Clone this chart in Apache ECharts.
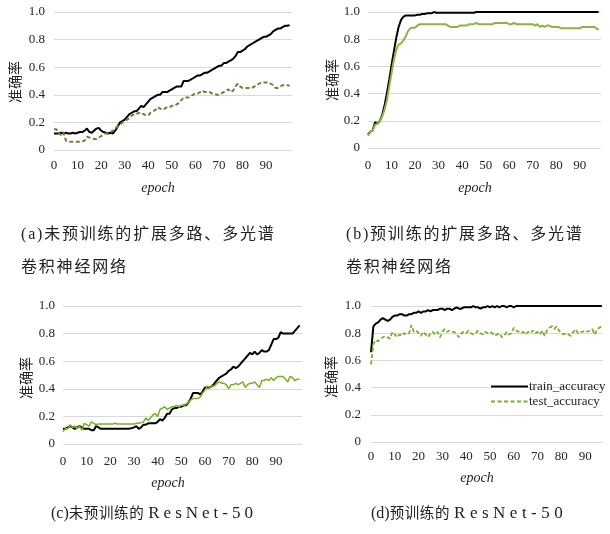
<!DOCTYPE html>
<html>
<head>
<meta charset="utf-8">
<script src="https://cdn.jsdelivr.net/npm/echarts@6/dist/echarts.min.js"></script>
<style>
body { margin: 0; background: #fff; }
#chart { position: absolute; left: 0; top: 0; width: 610px; height: 534px; }
.cap { position: absolute; font-family: "Liberation Serif", "Noto Sans CJK SC", serif; color: #222; white-space: nowrap; line-height: 16px; }
.cap .cjk { font-family: "Noto Sans CJK SC", sans-serif; }
</style>
</head>
<body>
<div id="chart"></div>
<div class="cap" style="left:21px;top:224px;font-size:16px;letter-spacing:1.8px">(a)<span class="cjk">未预训练的扩展多路、多光谱</span></div>
<div class="cap" style="left:21px;top:257px;font-size:16px;letter-spacing:1.8px"><span class="cjk">卷积神经网络</span></div>
<div class="cap" style="left:346px;top:224px;font-size:16px;letter-spacing:1.8px">(b)<span class="cjk">预训练的扩展多路、多光谱</span></div>
<div class="cap" style="left:346px;top:257px;font-size:16px;letter-spacing:1.8px"><span class="cjk">卷积神经网络</span></div>
<div class="cap" style="left:51px;top:504px;font-size:16px">(c)<span class="cjk" style="font-size:14.5px;letter-spacing:0.6px">未预训练的</span> <span style="font-size:17px;letter-spacing:4px">ResNet-50</span></div>
<div class="cap" style="left:371px;top:504px;font-size:16px">(d)<span class="cjk" style="font-size:14.5px;letter-spacing:0.6px">预训练的</span> <span style="font-size:17px;letter-spacing:4.5px">ResNet-50</span></div>
<script>
// (a) 未预训练的扩展多路、多光谱卷积神经网络
const trainA = [0.12,0.12,0.12,0.125,0.12,0.125,0.12,0.12,0.125,0.12,
    0.125,0.13,0.13,0.14,0.155,0.13,0.125,0.14,0.155,0.16,
    0.14,0.13,0.125,0.12,0.125,0.12,0.14,0.17,0.2,0.21,
    0.22,0.24,0.26,0.27,0.28,0.28,0.3,0.32,0.31,0.33,
    0.35,0.37,0.38,0.39,0.4,0.4,0.42,0.42,0.42,0.43,
    0.44,0.45,0.46,0.46,0.46,0.5,0.5,0.5,0.51,0.52,
    0.53,0.54,0.54,0.55,0.56,0.56,0.57,0.58,0.59,0.6,
    0.61,0.61,0.63,0.63,0.64,0.65,0.66,0.68,0.71,0.71,
    0.72,0.73,0.75,0.76,0.77,0.78,0.79,0.8,0.81,0.82,
    0.82,0.83,0.84,0.86,0.87,0.88,0.88,0.89,0.9,0.9,
    0.905];
const testA = [0.15,0.15,0.12,0.11,0.13,0.07,0.06,0.06,0.06,0.06,
    0.06,0.06,0.06,0.07,0.095,0.09,0.085,0.08,0.08,0.09,
    0.1,0.11,0.12,0.12,0.13,0.14,0.16,0.17,0.18,0.2,
    0.21,0.22,0.23,0.25,0.26,0.26,0.27,0.26,0.26,0.25,
    0.25,0.27,0.28,0.29,0.31,0.3,0.29,0.3,0.31,0.31,
    0.32,0.32,0.33,0.34,0.36,0.38,0.38,0.38,0.39,0.4,
    0.41,0.41,0.42,0.43,0.42,0.42,0.42,0.41,0.41,0.4,
    0.4,0.41,0.42,0.43,0.44,0.42,0.43,0.46,0.48,0.46,
    0.45,0.45,0.45,0.45,0.45,0.46,0.47,0.48,0.49,0.49,
    0.49,0.49,0.48,0.47,0.45,0.45,0.46,0.47,0.47,0.47,
    0.465];

// (b) 预训练的扩展多路、多光谱卷积神经网络
const trainB = [0.1,0.12,0.13,0.19,0.18,0.2,0.24,0.31,0.4,0.5,
    0.61,0.71,0.81,0.89,0.94,0.965,0.975,0.975,0.975,0.975,
    0.975,0.98,0.98,0.985,0.985,0.99,0.99,0.99,1,0.995,
    0.995,0.995,0.995,0.995,0.995,0.995,0.995,0.995,0.995,0.995,
    0.995,0.995,0.995,0.995,0.995,0.995,1,1,1,1,
    1,1,1,1,1,1,1,1,1,1,
    1,1,1,1,1,1,1,1,1,1,
    1,1,1,1,1,1,1,1,1,1,
    1,1,1,1,1,1,1,1,1,1,
    1,1,1,1,1,1,1,1,1];
const testB = [0.09,0.12,0.13,0.17,0.18,0.2,0.23,0.28,0.35,0.45,
    0.55,0.65,0.72,0.76,0.77,0.79,0.82,0.86,0.88,0.885,
    0.885,0.9,0.91,0.91,0.91,0.91,0.91,0.91,0.91,0.91,
    0.91,0.91,0.91,0.91,0.9,0.89,0.89,0.89,0.89,0.9,
    0.9,0.9,0.9,0.91,0.91,0.91,0.92,0.91,0.91,0.91,
    0.91,0.91,0.91,0.91,0.92,0.92,0.92,0.92,0.92,0.92,
    0.91,0.91,0.92,0.91,0.91,0.91,0.91,0.91,0.91,0.91,
    0.91,0.9,0.91,0.89,0.9,0.89,0.9,0.9,0.89,0.89,
    0.89,0.89,0.88,0.88,0.88,0.88,0.88,0.88,0.88,0.88,
    0.88,0.89,0.89,0.89,0.89,0.89,0.89,0.88,0.87];

// (c) 未预训练的 ResNet-50
const trainC = [0.11,0.11,0.12,0.13,0.12,0.11,0.12,0.13,0.12,0.11,
    0.11,0.11,0.1,0.1,0.13,0.12,0.11,0.11,0.11,0.11,
    0.11,0.11,0.11,0.11,0.11,0.11,0.11,0.11,0.11,0.115,
    0.12,0.13,0.11,0.12,0.14,0.14,0.15,0.15,0.15,0.15,
    0.16,0.18,0.17,0.19,0.22,0.22,0.25,0.26,0.26,0.27,
    0.27,0.28,0.28,0.3,0.33,0.37,0.37,0.37,0.36,0.38,
    0.41,0.41,0.41,0.42,0.44,0.46,0.48,0.49,0.5,0.51,
    0.53,0.54,0.56,0.55,0.56,0.58,0.6,0.62,0.64,0.66,
    0.65,0.67,0.65,0.66,0.68,0.67,0.67,0.68,0.72,0.76,
    0.76,0.77,0.81,0.8,0.8,0.8,0.8,0.8,0.82,0.84,
    0.86];
const testC = [0.09,0.11,0.11,0.14,0.12,0.13,0.11,0.13,0.1,0.15,
    0.14,0.13,0.16,0.15,0.14,0.145,0.145,0.145,0.145,0.145,
    0.145,0.145,0.15,0.145,0.145,0.145,0.145,0.145,0.145,0.145,
    0.145,0.15,0.15,0.155,0.16,0.19,0.17,0.19,0.21,0.22,
    0.2,0.25,0.26,0.27,0.25,0.26,0.27,0.27,0.28,0.27,
    0.28,0.28,0.29,0.3,0.32,0.33,0.33,0.33,0.34,0.37,
    0.39,0.42,0.41,0.42,0.42,0.44,0.45,0.44,0.44,0.43,
    0.4,0.43,0.43,0.44,0.43,0.44,0.45,0.41,0.43,0.44,
    0.44,0.45,0.43,0.41,0.46,0.46,0.47,0.46,0.48,0.46,
    0.48,0.49,0.49,0.49,0.47,0.45,0.49,0.48,0.46,0.47,
    0.47];

// (d) 预训练的 ResNet-50
const trainD = [0.66,0.85,0.87,0.88,0.9,0.91,0.9,0.89,0.9,0.92,
    0.93,0.93,0.94,0.94,0.93,0.93,0.94,0.94,0.95,0.95,
    0.96,0.95,0.96,0.96,0.97,0.96,0.97,0.97,0.97,0.98,
    0.98,0.97,0.98,0.98,0.97,0.98,0.99,0.98,0.98,0.99,
    0.99,0.99,0.99,1,0.99,0.99,0.98,0.99,0.99,1,
    0.99,1,0.99,1,0.99,1,1,0.99,1,1,
    0.99,1,1,1,1,1,1,1,1,1,
    1,1,1,1,1,1,1,1,1,1,
    1,1,1,1,1,1,1,1,1,1,
    1,1,1,1,1,1,1,1];
const testD = [0.57,0.72,0.75,0.74,0.76,0.77,0.78,0.77,0.76,0.81,
    0.79,0.77,0.79,0.78,0.8,0.79,0.8,0.86,0.81,0.82,
    0.8,0.78,0.81,0.79,0.77,0.8,0.81,0.79,0.81,0.77,
    0.81,0.83,0.81,0.82,0.81,0.81,0.79,0.77,0.8,0.81,
    0.8,0.82,0.8,0.79,0.8,0.82,0.8,0.79,0.81,0.8,
    0.81,0.8,0.78,0.79,0.8,0.77,0.78,0.81,0.79,0.8,
    0.84,0.82,0.81,0.8,0.81,0.79,0.81,0.8,0.82,0.8,
    0.81,0.79,0.82,0.78,0.82,0.84,0.85,0.83,0.85,0.82,
    0.8,0.79,0.8,0.79,0.78,0.81,0.83,0.8,0.81,0.81,
    0.82,0.81,0.82,0.83,0.79,0.83,0.84,0.85];

const yTitle = '准确率';
const xTitle = 'epoch';
const legendNames = ['train_accuracy', 'test_accuracy'];

const SERIF = '"Liberation Serif", serif';
const CJK = '"Noto Sans CJK SC", sans-serif';
const GRID_COLOR = '#d9d9d9';
const LABEL_COLOR = '#262626';

const panels = [
    { left: 54, top: 12, width: 238, height: 138, max: 101, yMargin: 9, xMargin: 9,
      train: trainA, test: testA, testColor: '#85753a', testType: [4, 2.5], testWidth: 2,
      yTitleAt: [15, 82], xTitleAt: [158, 188], names: ['train_a', 'test_a'] },
    { left: 368, top: 12, width: 233, height: 136, max: 99, yMargin: 8, xMargin: 11,
      train: trainB, test: testB, testColor: '#8cb540', testType: 'solid', testWidth: 2,
      yTitleAt: [332, 80], xTitleAt: [475, 188], names: ['train_b', 'test_b'] },
    { left: 63, top: 306, width: 239, height: 138, max: 101, yMargin: 8, xMargin: 11,
      train: trainC, test: testC, testColor: '#7aaf27', testType: 'solid', testWidth: 1.5,
      yTitleAt: [26, 378], xTitleAt: [168, 483], names: ['train_c', 'test_c'] },
    { left: 371, top: 306, width: 232, height: 136, max: 97.5, yMargin: 10, xMargin: 8,
      train: trainD, test: testD, testColor: '#7aaf27', testType: [4, 2.5], testWidth: 1.8,
      yTitleAt: [331, 377], xTitleAt: [477, 478], names: legendNames }
];

function pts(arr) {
    return arr.map((v, i) => [i, v]);
}

let grid = [], xAxis = [], yAxis = [], series = [], graphic = [];

panels.forEach((p, i) => {
    grid.push({ left: p.left, top: p.top, width: p.width, height: p.height });
    xAxis.push({
        type: 'value', gridIndex: i, min: 0, max: p.max, interval: 10,
        axisLine: { show: false }, axisTick: { show: false }, splitLine: { show: false },
        axisLabel: {
            margin: p.xMargin, color: LABEL_COLOR, fontFamily: SERIF, fontSize: 13,
            formatter: v => (v % 10 === 0 && v <= 90) ? String(v) : ''
        }
    });
    yAxis.push({
        type: 'value', gridIndex: i, min: 0, max: 1, interval: 0.2,
        axisLine: { show: false }, axisTick: { show: false },
        splitLine: { lineStyle: { color: GRID_COLOR, width: 1 } },
        axisLabel: {
            margin: p.yMargin, color: LABEL_COLOR, fontFamily: SERIF, fontSize: 13,
            formatter: v => v === 0 ? '0' : v.toFixed(1)
        }
    });
    series.push({
        name: p.names[0], type: 'line', xAxisIndex: i, yAxisIndex: i,
        symbol: 'none', data: pts(p.train),
        lineStyle: { color: '#000', width: 2 }, itemStyle: { color: '#000' }
    });
    series.push({
        name: p.names[1], type: 'line', xAxisIndex: i, yAxisIndex: i,
        symbol: 'none', data: pts(p.test),
        lineStyle: { color: p.testColor, width: p.testWidth, type: p.testType },
        itemStyle: { color: p.testColor }
    });
    graphic.push({
        type: 'text', x: p.yTitleAt[0], y: p.yTitleAt[1], rotation: Math.PI / 2,
        style: { text: yTitle, font: '14px ' + CJK, fill: '#222', textAlign: 'center', textVerticalAlign: 'middle' }
    });
    graphic.push({
        type: 'text', x: p.xTitleAt[0], y: p.xTitleAt[1],
        style: { text: xTitle, font: 'italic 14px ' + SERIF, fill: '#222', textAlign: 'center', textVerticalAlign: 'middle' }
    });
});

const chart = echarts.init(document.getElementById('chart'));
chart.setOption({
    animation: false,
    backgroundColor: '#fff',
    grid: grid,
    xAxis: xAxis,
    yAxis: yAxis,
    legend: {
        data: legendNames,
        orient: 'vertical',
        left: 485, top: 375,
        itemWidth: 37, itemHeight: 14, itemGap: 2,
        itemStyle: { color: 'transparent', borderWidth: 0, opacity: 0 },
        textStyle: { fontFamily: SERIF, fontSize: 13, color: LABEL_COLOR, padding: [0, 0, 0, -4] }
    },
    graphic: graphic,
    series: series
});
</script>
</body>
</html>
